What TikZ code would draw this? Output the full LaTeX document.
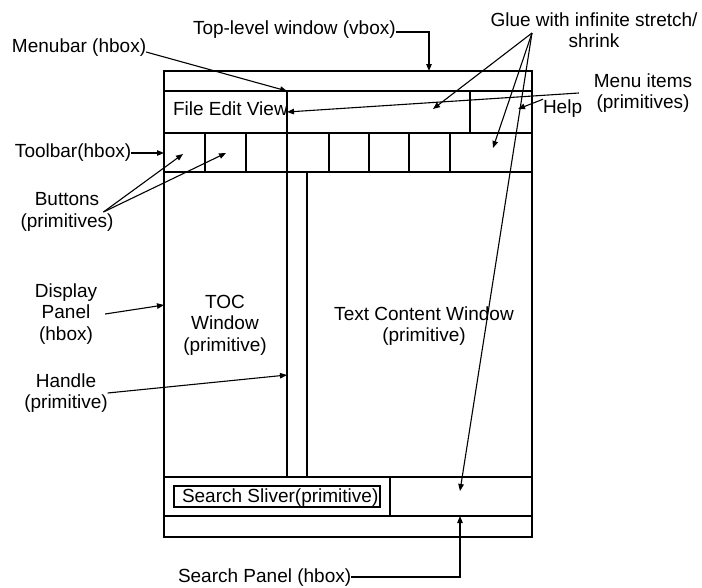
\documentclass[tikz,border=0pt]{standalone}
\usepackage{fontspec}
\setmainfont{Liberation Sans}
\usetikzlibrary{arrows.meta}
\newcommand\dfont{\fontsize{19pt}{21.5pt}\selectfont}
\begin{document}
\begin{tikzpicture}[x=1pt,y=-1pt,
  every node/.style={font=\dfont,inner sep=0pt,outer sep=0pt},
  lbl/.style={anchor=base west},
  mlbl/.style={align=center,anchor=center},
  boxline/.style={line width=1.6pt},
  conn/.style={line width=1.1pt,-{Triangle[length=7pt,width=5.5pt]}}]
\useasboundingbox (0,0) rectangle (702,587);
\fill[white] (0,0) rectangle (702,587);

% ---- window layout ----
\coordinate (tl) at (164,71);
\coordinate (br) at (532,537);
\draw[boxline] (tl) rectangle (br);
\foreach \yy in {91,133,172,477,516}
  \draw[boxline] (164,\yy) -- (532,\yy);
\draw[boxline] (287,91) -- (287,477);
\draw[boxline] (307,172) -- (307,477);
\draw[boxline] (470,91) -- (470,133);
\foreach \xx in {205,246,329,369,409,450}
  \draw[boxline] (\xx,133) -- (\xx,172);
\draw[boxline] (390,477) -- (390,516);
\draw[boxline] (174,486) rectangle (380,507);

% ---- texts inside ----
\node[lbl] (fev) at (173,115) {File Edit View};
\node[lbl] (help) at (543,113) {Help};
\node[mlbl] (toc) at (225,325) {TOC\\Window\\(primitive)};
\node[mlbl] (tcw) at (424,326) {Text Content Window\\(primitive)};
\node[lbl] (sliver) at (182,502) {Search Sliver(primitive)};

% ---- outside labels ----
\node[lbl] (top) at (193,34) {Top-level window (vbox)};
\node[lbl] (menubar) at (12,52) {Menubar (hbox)};
\node[lbl] (toolbar) at (15,157) {Toolbar(hbox)};
\node[mlbl] (buttons) at (67,212) {Buttons\\(primitives)};
\node[mlbl] (display) at (66,314) {Display\\Panel\\(hbox)};
\node[mlbl] (handle) at (66,393) {Handle\\(primitive)};
\node[lbl] (spanel) at (178,582) {Search Panel (hbox)};
\node[mlbl] (glue) at (594,30) {Glue with infinite stretch/\\shrink};
\node[mlbl] (mitems) at (643,93) {Menu items\\(primitives)};

% ---- target / free-end coordinates ----
\coordinate (toptip) at (429,71);
\coordinate (menutip) at (287,91);
\coordinate (glueapex) at (532,33);
\coordinate (gluemenu) at (433,109);
\coordinate (gluetool) at (493,148);
\coordinate (gluesearch) at (460,491);
\coordinate (viewtip) at (287,112);
\coordinate (helptip) at (518,109);
\coordinate (tooltip) at (164,153);
\coordinate (btn1) at (183,154);
\coordinate (btn2) at (226,153);
\coordinate (disptip) at (164,305);
\coordinate (handtip) at (287,375);
\coordinate (sptip) at (460,516);

% ---- connectors ----
\draw[conn] ([yshift=2pt]top.base east) -| (toptip);
\draw[conn] (menubar.base east) -- (menutip);
\draw[conn] (glueapex) -- (gluemenu);
\draw[conn] (glueapex) -- (gluetool);
\draw[conn] (glueapex) -- (gluesearch);
\draw[conn] ([xshift=-15pt]mitems.west) -- (viewtip);
\draw[conn] (help.north west) -- (helptip);
\draw[conn] ([yshift=4pt]toolbar.base east) -- (tooltip);
\draw[conn] ([xshift=-10pt]buttons.east) -- (btn1);
\draw[conn] ([xshift=-10pt]buttons.east) -- (btn2);
\draw[conn] ([xshift=8pt]display.east) -- (disptip);
\draw[conn] (handle.east) -- (handtip);
\draw[conn] ([yshift=5pt]spanel.base east) -| (sptip);
\end{tikzpicture}
\end{document}
